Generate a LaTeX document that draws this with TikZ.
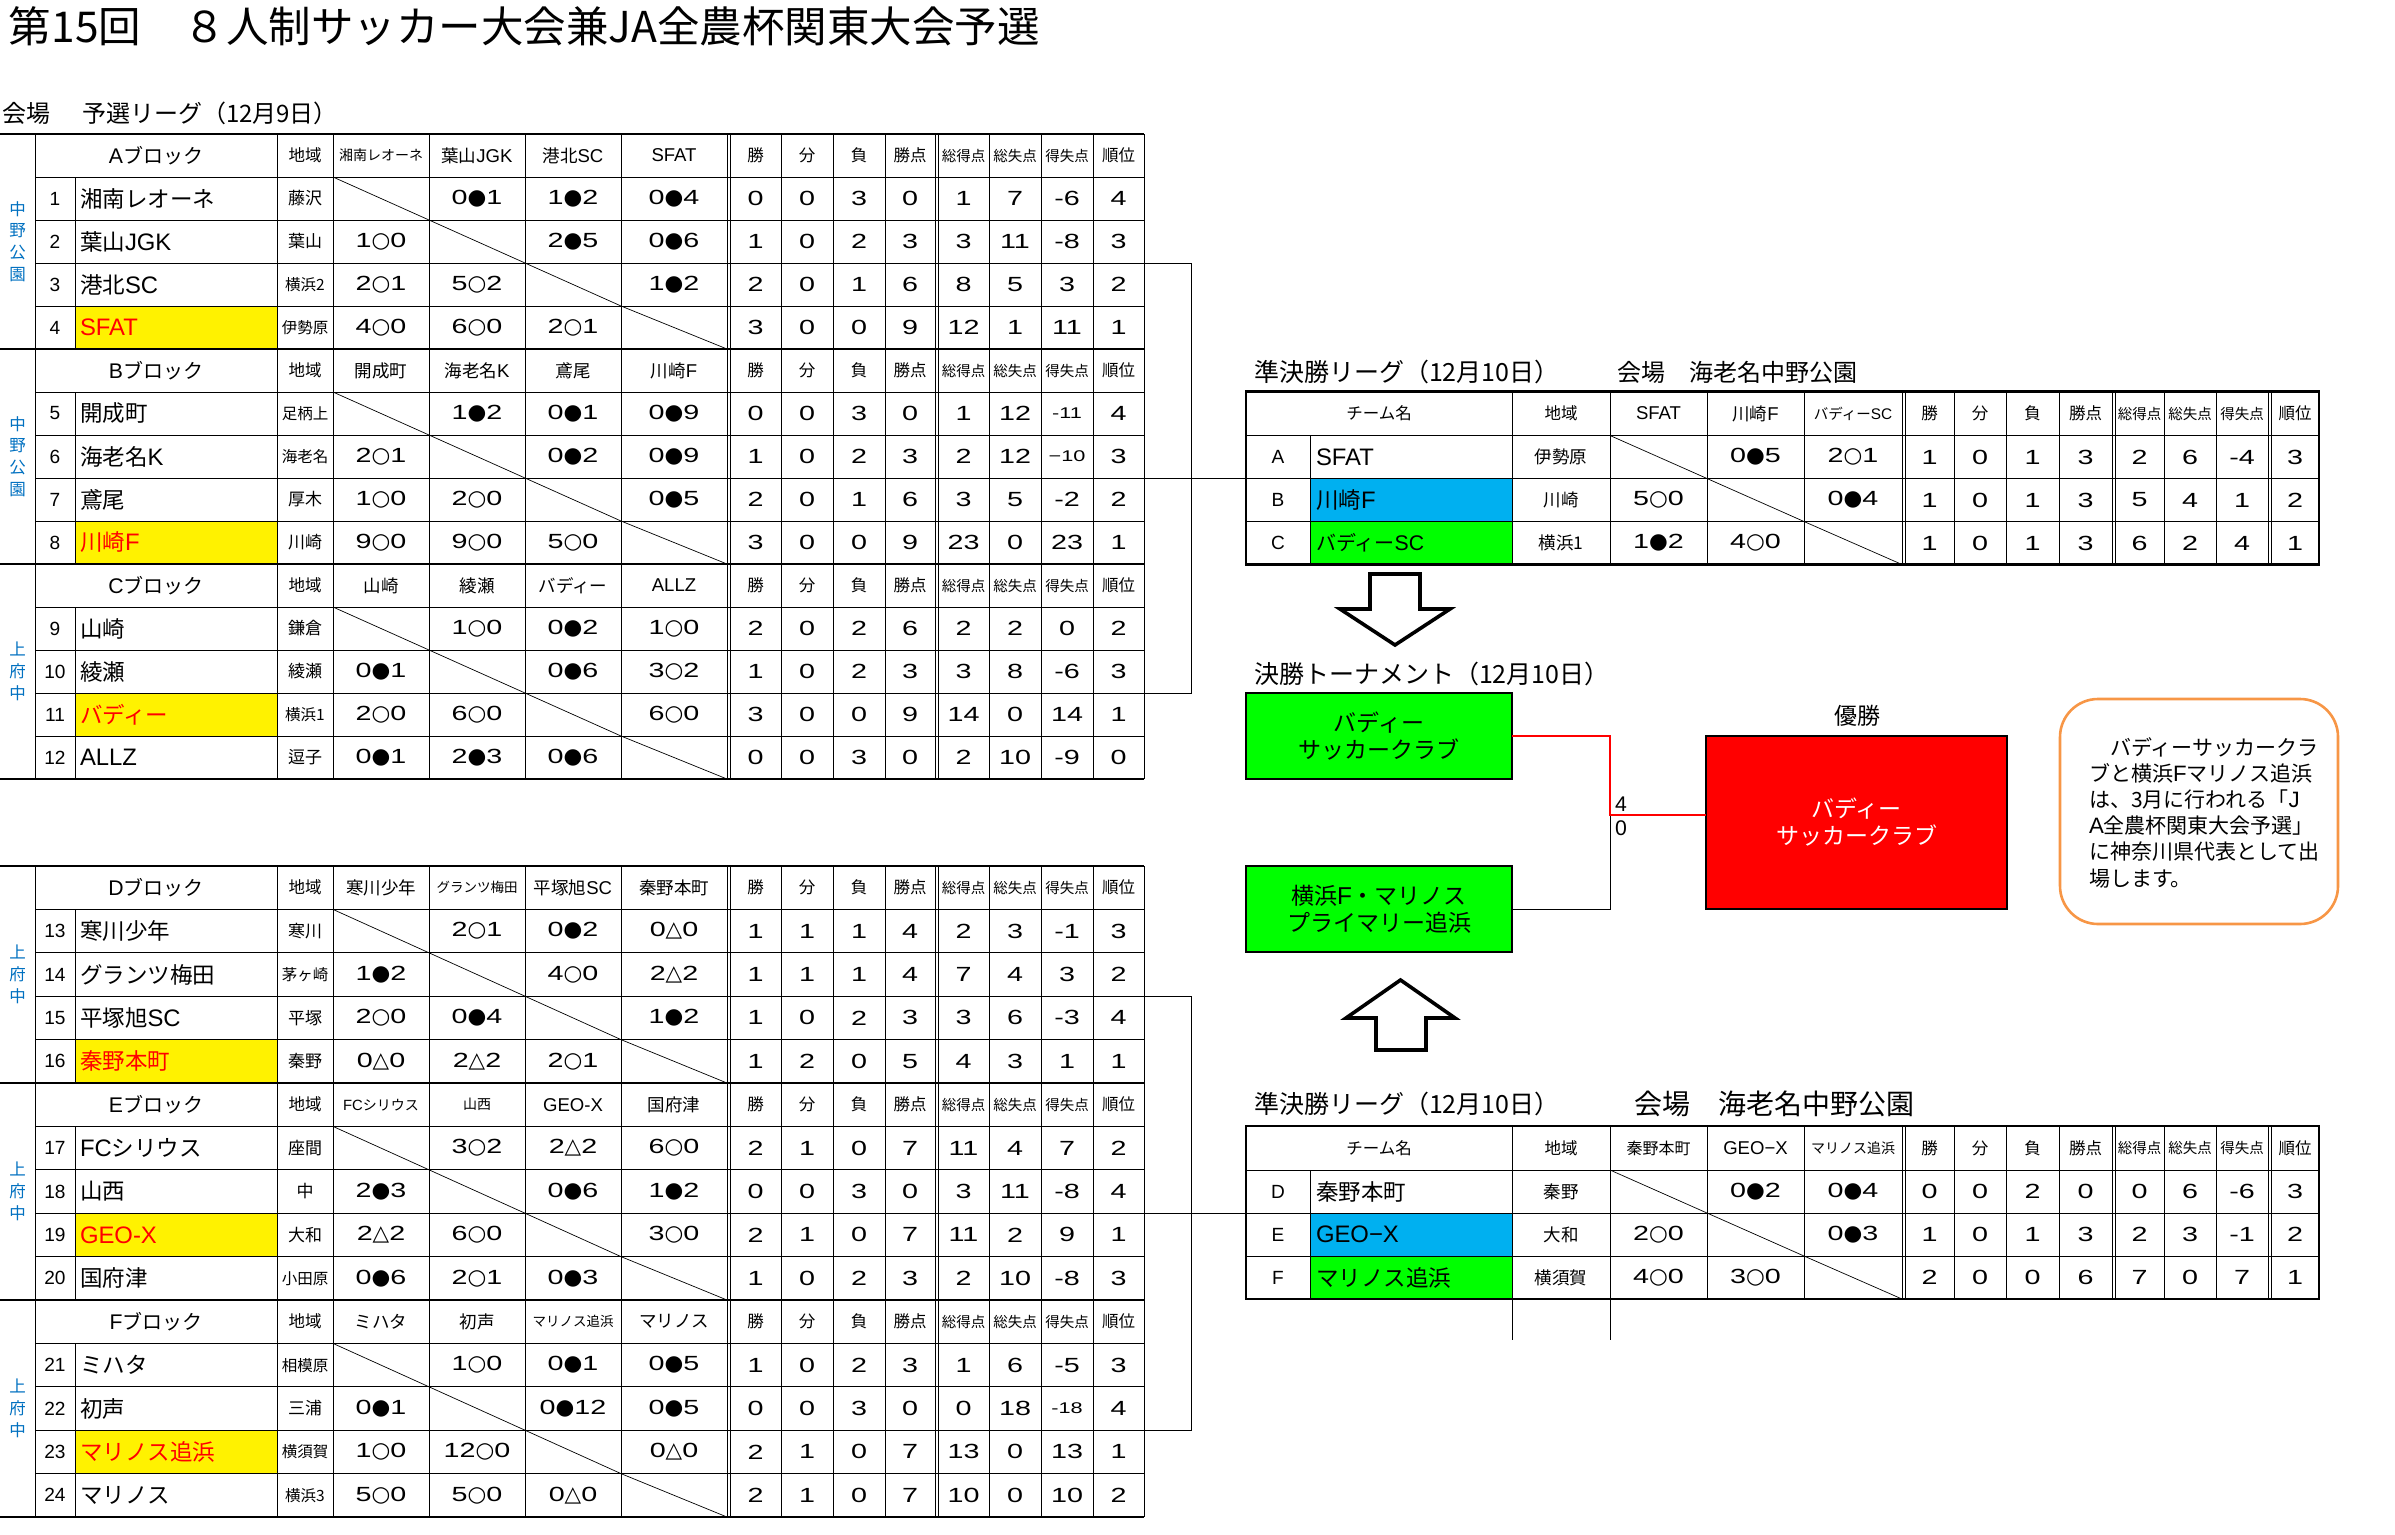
\documentclass[tikz,border=0pt]{standalone}
\usepackage{fontspec}
\setmainfont{Noto Sans CJK JP}
\newfontfamily\lat[Scale=1.06]{Liberation Sans}
\newfontfamily\numf[FakeStretch=1.4]{Liberation Sans}
\newfontfamily\symf{DejaVu Sans}
\definecolor{venueblue}{RGB}{0,112,192}
\definecolor{xlblue}{RGB}{0,176,240}
\definecolor{xlgreen}{RGB}{0,255,0}
\definecolor{xlorange}{RGB}{247,150,70}
\newcommand\fs[1]{\fontsize{#1}{#1}\selectfont}
\newcommand\la[1]{{\lat #1}}
\newcommand\sy[1]{{\symf\fs{21.5}#1}}
\newcommand\sW[2]{#1\sy{○}#2}
\newcommand\sL[2]{#1\sy{●}#2}
\newcommand\sD[2]{#1\sy{△}#2}
\newcommand\sm[1]{{\fs{15.5}#1}}
\newcount\nodecnt
\newcommand\tx[3][]{\global\advance\nodecnt by 1 \node[#1] (t\the\nodecnt) at (#2) {#3};}
\tikzset{
 every node/.style={inner sep=0pt, outer sep=0pt},
 thinl/.style={line width=0.9pt},
 thickl/.style={line width=2.4pt},
 diagl/.style={line width=0.7pt},
 hd/.style={font=\fs{16.5}},
 nmst/.style={anchor=west, font=\fs{22.5}},
 numcol/.style={font=\lat\fs{18}},
 area/.style={font=\fs{17}},
 cell/.style={font=\numf\fs{20.5}},
 venue/.style={align=center, text=venueblue, font=\fontsize{16.5}{21.7}\selectfont},
 gbox/.style={draw, line width=2.4pt, fill=xlgreen, minimum width=266pt, minimum height=86pt, align=center, font=\fontsize{23}{27}\selectfont},
 arrowbox/.style={draw, line width=3.6pt, fill=white, line join=miter},
}
\newcommand\blockgrid[2]{%
 \foreach \k in {1,2,3,4} \draw[thinl] (35,{#1+\k*#2}) -- (1144,{#1+\k*#2});
 \draw[thinl] (35,#1) -- (35,{#1+5*#2});
 \draw[thinl] (75,{#1+#2}) -- (75,{#1+5*#2});
 \foreach \xx in {277,333,429,525,621,727,730,781,833,885,935,938,989,1041,1093,1144} \draw[thinl] (\xx,#1) -- (\xx,{#1+5*#2});
 \draw[diagl] (333,{#1+#2}) -- (429,{#1+2*#2});
 \draw[diagl] (429,{#1+2*#2}) -- (525,{#1+3*#2});
 \draw[diagl] (525,{#1+3*#2}) -- (621,{#1+4*#2});
 \draw[diagl] (621,{#1+4*#2}) -- (727,{#1+5*#2});
 \draw[thickl] (0,#1) -- (1144,#1);
}
\newcommand\hdrL[6]{%
 \tx[font=\fs{20}]{156,#1}{#2}
 \tx[hd]{305,#1}{地域}
 \tx[font=\fs{17.5}]{381,#1}{#3}
 \tx[font=\fs{17.5}]{477,#1}{#4}
 \tx[font=\fs{17.5}]{573,#1}{#5}
 \tx[font=\fs{17.5}]{674,#1}{#6}
 \foreach \lab [count=\i] in {勝,分,負,勝点,{\fs{14.5}総得点},{\fs{14.5}総失点},{\fs{14.5}得失点},順位} {%
   \pgfmathsetmacro\xx{{755.5,807,859,910,963.5,1015,1067,1118.5}[\i-1]}%
   \tx[hd]{\xx,#1}{\lab}
 }%
}
\newcommand\optcell[3]{\if\relax\detokenize{#3}\relax\else\tx[cell]{#1,#2}{#3}\fi}
\newcommand\rowL[8]{%
 \tx[numcol]{55,#1}{#2}
 \tx[nmst]{80,#1}{#3}
 \tx[area]{305,#1}{#4}
 \optcell{381}{#1}{#5}
 \optcell{477}{#1}{#6}
 \optcell{573}{#1}{#7}
 \optcell{674}{#1}{#8}
}
\newcommand\statL[2]{%
 \foreach \v [count=\i] in {#2} {%
   \pgfmathsetmacro\xx{{755.5,807,859,910,963.5,1015,1067,1118.5}[\i-1]}%
   \tx[cell]{\xx,#1}{\v}
 }%
}
\newcommand\semigrid[1]{%
 \foreach \yy in {44,87,130} \draw[thinl] (1246,{#1+\yy}) -- (2319,{#1+\yy});
 \draw[thinl] (1310,{#1+44}) -- (1310,{#1+173});
 \foreach \xx in {1512,1610,1707,1804,1902,1905,1954,2006,2059,2112,2115,2164,2216,2268,2271} \draw[thinl] (\xx,#1) -- (\xx,{#1+173});
 \draw[diagl] (1610,{#1+44}) -- (1707,{#1+87});
 \draw[diagl] (1707,{#1+87}) -- (1804,{#1+130});
 \draw[diagl] (1804,{#1+130}) -- (1902,{#1+173});
 \draw[thickl] (1246,#1) rectangle (2319,{#1+173});
}
\newcommand\hdrS[4]{%
 \tx[hd]{1379,#1}{チーム名}
 \tx[hd]{1561,#1}{地域}
 \tx[font=\fs{17.5}]{1658.5,#1}{#2}
 \tx[font=\fs{17.5}]{1755.5,#1}{#3}
 \tx[font=\fs{17.5}]{1853,#1}{#4}
 \foreach \lab [count=\i] in {勝,分,負,勝点,{\fs{14.5}総得点},{\fs{14.5}総失点},{\fs{14.5}得失点},順位} {%
   \pgfmathsetmacro\xx{{1929.5,1980,2032.5,2085.5,2139.5,2190,2242,2295}[\i-1]}%
   \tx[hd]{\xx,#1}{\lab}
 }%
}
\newcommand\rowS[8]{%
 \tx[numcol]{1278,#1}{#2}
 \tx[nmst]{1316,#1}{#3}
 \tx[font=\fs{17.5}]{1561,#1}{#4}
 \optcell{1658.5}{#1}{#5}
 \optcell{1755.5}{#1}{#6}
 \optcell{1853}{#1}{#7}
 \foreach \v [count=\i] in {#8} {%
   \pgfmathsetmacro\xx{{1929.5,1980,2032.5,2085.5,2139.5,2190,2242,2295}[\i-1]}%
   \tx[cell]{\xx,#1}{\v}
 }%
}
\begin{document}
\begin{tikzpicture}[x=1pt,y=-1pt]
\useasboundingbox (0,0) rectangle (2395,1534);
% ---------- fills
\fill[yellow] (75,306) rectangle (277,349);
\fill[yellow] (75,521) rectangle (277,564);
\fill[yellow] (75,693) rectangle (277,736);
\fill[yellow] (75,1039.6) rectangle (277,1083);
\fill[yellow] (75,1213.2) rectangle (277,1256.6);
\fill[yellow] (75,1430.2) rectangle (277,1473.6);
\fill[xlblue] (1310,478.5) rectangle (1512,521.5);
\fill[xlgreen] (1310,521.5) rectangle (1512,564.5);
\fill[xlblue] (1310,1213) rectangle (1512,1256);
\fill[xlgreen] (1310,1256) rectangle (1512,1299);
% ---------- titles
\tx[anchor=west,font=\fs{42.5}]{9,26}{第15回　８人制サッカー大会兼JA全農杯関東大会予選}
\tx[anchor=west,font=\fs{24}]{2,113}{会場}
\tx[anchor=west,font=\fs{24}]{82,113}{予選リーグ（12月9日）}
\tx[anchor=west,font=\fs{25}]{1254,372}{準決勝リーグ（12月10日）}
\tx[anchor=west,font=\fs{24}]{1617,372}{会場　海老名中野公園}
\tx[anchor=west,font=\fs{25}]{1254,674}{決勝トーナメント（12月10日）}
\tx[anchor=west,font=\fs{25}]{1254,1104}{準決勝リーグ（12月10日）}
\tx[anchor=west,font=\fs{28}]{1634,1104}{会場　海老名中野公園}
% ---------- left grids
\blockgrid{134}{43}
\blockgrid{349}{43}
\blockgrid{564}{43}
\draw[thickl] (0,779) -- (1144,779);
\blockgrid{866}{43.4}
\blockgrid{1083}{43.4}
\blockgrid{1300}{43.4}
\draw[thickl] (0,1517) -- (1144,1517);
% venue labels
\tx[venue]{17.5,241.5}{中\\野\\公\\園}
\tx[venue]{17.5,456.5}{中\\野\\公\\園}
\tx[venue]{17.5,671.5}{上\\府\\中}
\tx[venue]{17.5,974.5}{上\\府\\中}
\tx[venue]{17.5,1191.5}{上\\府\\中}
\tx[venue]{17.5,1408.5}{上\\府\\中}
% ---------- block A
\hdrL{155.5}{\la{A}ブロック}{{\fs{14}湘南レオーネ}}{葉山\la{JGK}}{港北\la{SC}}{\la{SFAT}}
\rowL{198.5}{1}{湘南レオーネ}{藤沢}{}{\sL{0}{1}}{\sL{1}{2}}{\sL{0}{4}}
\statL{198.5}{0,0,3,0,1,7,-6,4}
\rowL{241.5}{2}{葉山\la{JGK}}{葉山}{\sW{1}{0}}{}{\sL{2}{5}}{\sL{0}{6}}
\statL{241.5}{1,0,2,3,3,11,-8,3}
\rowL{284.5}{3}{港北\la{SC}}{{\fs{15.5}横浜2}}{\sW{2}{1}}{\sW{5}{2}}{}{\sL{1}{2}}
\statL{284.5}{2,0,1,6,8,5,3,2}
\rowL{327.5}{4}{\textcolor{red}{\la{SFAT}}}{{\fs{15.5}伊勢原}}{\sW{4}{0}}{\sW{6}{0}}{\sW{2}{1}}{}
\statL{327.5}{3,0,0,9,12,1,11,1}
% ---------- block B
\hdrL{370.5}{\la{B}ブロック}{開成町}{海老名\la{K}}{鳶尾}{川崎\la{F}}
\rowL{413.5}{5}{開成町}{{\fs{15.5}足柄上}}{}{\sL{1}{2}}{\sL{0}{1}}{\sL{0}{9}}
\statL{413.5}{0,0,3,0,1,12,{\sm{-11}},4}
\rowL{456.5}{6}{海老名\la{K}}{{\fs{15.5}海老名}}{\sW{2}{1}}{}{\sL{0}{2}}{\sL{0}{9}}
\statL{456.5}{1,0,2,3,2,12,{\sm{−10}},3}
\rowL{499.5}{7}{鳶尾}{厚木}{\sW{1}{0}}{\sW{2}{0}}{}{\sL{0}{5}}
\statL{499.5}{2,0,1,6,3,5,-2,2}
\rowL{542.5}{8}{\textcolor{red}{川崎\la{F}}}{川崎}{\sW{9}{0}}{\sW{9}{0}}{\sW{5}{0}}{}
\statL{542.5}{3,0,0,9,23,0,23,1}
% ---------- block C
\hdrL{585.5}{\la{C}ブロック}{山崎}{綾瀬}{バディー}{\la{ALLZ}}
\rowL{628.5}{9}{山崎}{鎌倉}{}{\sW{1}{0}}{\sL{0}{2}}{\sW{1}{0}}
\statL{628.5}{2,0,2,6,2,2,0,2}
\rowL{671.5}{10}{綾瀬}{綾瀬}{\sL{0}{1}}{}{\sL{0}{6}}{\sW{3}{2}}
\statL{671.5}{1,0,2,3,3,8,-6,3}
\rowL{714.5}{11}{\textcolor{red}{バディー}}{{\fs{15.5}横浜1}}{\sW{2}{0}}{\sW{6}{0}}{}{\sW{6}{0}}
\statL{714.5}{3,0,0,9,14,0,14,1}
\rowL{757.5}{12}{\la{ALLZ}}{逗子}{\sL{0}{1}}{\sL{2}{3}}{\sL{0}{6}}{}
\statL{757.5}{0,0,3,0,2,10,-9,0}
% ---------- block D
\hdrL{887.7}{\la{D}ブロック}{寒川少年}{{\fs{13.5}グランツ梅田}}{平塚旭\la{SC}}{秦野本町}
\rowL{931.1}{13}{寒川少年}{寒川}{}{\sW{2}{1}}{\sL{0}{2}}{\sD{0}{0}}
\statL{931.1}{1,1,1,4,2,3,-1,3}
\rowL{974.5}{14}{グランツ梅田}{{\fs{15.5}茅ヶ崎}}{\sL{1}{2}}{}{\sW{4}{0}}{\sD{2}{2}}
\statL{974.5}{1,1,1,4,7,4,3,2}
\rowL{1017.9}{15}{平塚旭\la{SC}}{平塚}{\sW{2}{0}}{\sL{0}{4}}{}{\sL{1}{2}}
\statL{1017.9}{1,0,2,3,3,6,-3,4}
\rowL{1061.3}{16}{\textcolor{red}{秦野本町}}{秦野}{\sD{0}{0}}{\sD{2}{2}}{\sW{2}{1}}{}
\statL{1061.3}{1,2,0,5,4,3,1,1}
% ---------- block E
\hdrL{1104.7}{\la{E}ブロック}{{\fs{14}\la{FC}シリウス}}{{\fs{14}山西}}{\la{GEO-X}}{国府津}
\rowL{1148.1}{17}{\la{FC}シリウス}{座間}{}{\sW{3}{2}}{\sD{2}{2}}{\sW{6}{0}}
\statL{1148.1}{2,1,0,7,11,4,7,2}
\rowL{1191.5}{18}{山西}{中}{\sL{2}{3}}{}{\sL{0}{6}}{\sL{1}{2}}
\statL{1191.5}{0,0,3,0,3,11,-8,4}
\rowL{1234.9}{19}{\textcolor{red}{\la{GEO-X}}}{大和}{\sD{2}{2}}{\sW{6}{0}}{}{\sW{3}{0}}
\statL{1234.9}{2,1,0,7,11,2,9,1}
\rowL{1278.3}{20}{国府津}{{\fs{15.5}小田原}}{\sL{0}{6}}{\sW{2}{1}}{\sL{0}{3}}{}
\statL{1278.3}{1,0,2,3,2,10,-8,3}
% ---------- block F
\hdrL{1321.7}{\la{F}ブロック}{ミハタ}{初声}{{\fs{13.5}マリノス追浜}}{マリノス}
\rowL{1365.1}{21}{ミハタ}{{\fs{15.5}相模原}}{}{\sW{1}{0}}{\sL{0}{1}}{\sL{0}{5}}
\statL{1365.1}{1,0,2,3,1,6,-5,3}
\rowL{1408.5}{22}{初声}{三浦}{\sL{0}{1}}{}{\sL{0}{12}}{\sL{0}{5}}
\statL{1408.5}{0,0,3,0,0,18,{\sm{-18}},4}
\rowL{1451.9}{23}{\textcolor{red}{マリノス追浜}}{{\fs{15.5}横須賀}}{\sW{1}{0}}{\sW{12}{0}}{}{\sD{0}{0}}
\statL{1451.9}{2,1,0,7,13,0,13,1}
\rowL{1495.3}{24}{マリノス}{{\fs{15.5}横浜3}}{\sW{5}{0}}{\sW{5}{0}}{\sD{0}{0}}{}
\statL{1495.3}{2,1,0,7,10,0,10,2}
% ---------- semifinal tables
\semigrid{391.5}
\hdrS{413.5}{\la{SFAT}}{川崎\la{F}}{{\fs{14.5}バディー\la{SC}}}
\rowS{457}{A}{\la{SFAT}}{伊勢原}{}{\sL{0}{5}}{\sW{2}{1}}{1,0,1,3,2,6,-4,3}
\rowS{500}{B}{川崎\la{F}}{川崎}{\sW{5}{0}}{}{\sL{0}{4}}{1,0,1,3,5,4,1,2}
\rowS{543}{C}{{\fs{20}バディー\la{SC}}}{横浜1}{\sL{1}{2}}{\sW{4}{0}}{}{1,0,1,3,6,2,4,1}
\semigrid{1126}
\hdrS{1148}{{\fs{16}秦野本町}}{\la{GEO−X}}{{\fs{14}マリノス追浜}}
\rowS{1191.5}{D}{秦野本町}{秦野}{}{\sL{0}{2}}{\sL{0}{4}}{0,0,2,0,0,6,-6,3}
\rowS{1234.5}{E}{\la{GEO−X}}{大和}{\sW{2}{0}}{}{\sL{0}{3}}{1,0,1,3,2,3,-1,2}
\rowS{1277.5}{F}{マリノス追浜}{横須賀}{\sW{4}{0}}{\sW{3}{0}}{}{2,0,0,6,7,0,7,1}
\draw[thinl] (1512,1299) -- (1512,1340);
\draw[thinl] (1610,1299) -- (1610,1340);
% ---------- connectors from league tables
\coordinate (a1) at (1144,263);
\coordinate (a2) at (1191,263);
\coordinate (a3) at (1191,693);
\coordinate (a4) at (1144,693);
\draw[thinl] (a1) -- (a2) -- (a3) -- (a4);
\coordinate (b1) at (1144,478.5);
\coordinate (b2) at (1246,478.5);
\draw[thinl] (b1) -- (b2);
\coordinate (d1) at (1144,996.2);
\coordinate (d2) at (1191,996.2);
\coordinate (d3) at (1191,1430.2);
\coordinate (d4) at (1144,1430.2);
\draw[thinl] (d1) -- (d2) -- (d3) -- (d4);
\coordinate (e1) at (1144,1213);
\coordinate (e2) at (1246,1213);
\draw[thinl] (e1) -- (e2);
% ---------- arrows
\draw[arrowbox] (1370,574) -- (1420,574) -- (1420,609) -- (1450,609) -- (1395,645) -- (1340,609) -- (1370,609) -- cycle;
\draw[arrowbox] (1376,1050) -- (1426,1050) -- (1426,1018) -- (1455,1018) -- (1400.5,980) -- (1346,1018) -- (1376,1018) -- cycle;
% ---------- tournament
\node[gbox] (g1) at (1379,736) {バディー\\サッカークラブ};
\node[gbox] (g2) at (1379,909) {横浜\la{F}・マリノス\\プライマリー追浜};
\node[draw, line width=2.4pt, fill=red, minimum width=301pt, minimum height=173pt, align=center, text=white, font=\fontsize{23}{27}\selectfont] (win) at (1856.5,822.5) {バディー\\サッカークラブ};
\node[font=\fs{23}] (yusho) at (1857,716) {優勝};
\coordinate (jn) at (1610,815);
\draw[line width=0.9pt] (g2.east) -| (jn);
\draw[red, line width=2.6pt] (g1.east) -| (jn) -- (jn -| win.west);
\node[font=\lat\fs{20}] (s4) at (1621,804) {4};
\node[font=\lat\fs{20}] (s0) at (1621,828) {0};
\node[draw=xlorange, line width=2.6pt, rounded corners=38pt, minimum width=278pt, minimum height=225pt] (notebox) at (2199,811.5) {};
\node[anchor=west, align=left, font=\fontsize{21}{26.2}\selectfont] (note) at (2089,812.5) {　バディーサッカークラ\\ブと横浜\la{F}マリノス追浜\\は、3月に行われる「\la{J}\\\la{A}全農杯関東大会予選」\\に神奈川県代表として出\\場します。};
\end{tikzpicture}
\end{document}
